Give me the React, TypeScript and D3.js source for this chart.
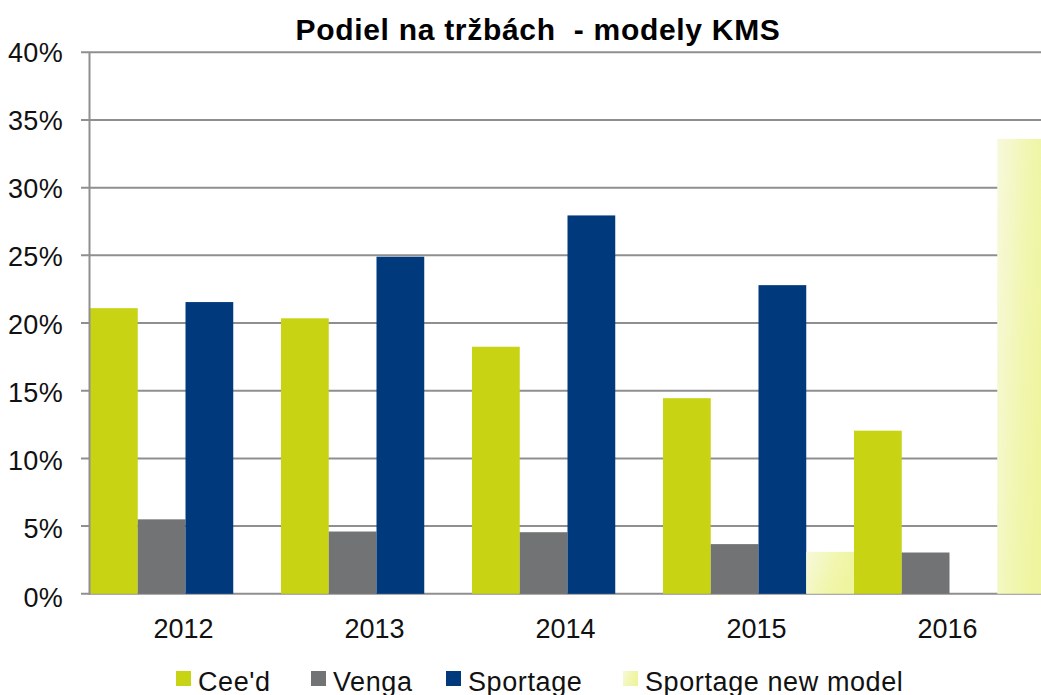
import React from 'react';
import * as d3 from 'd3';

const categories = ['2012', '2013', '2014', '2015', '2016'];
const seriesNames = ["Cee'd", 'Venga', 'Sportage', 'Sportage new model'];
const ceed = [21.1, 20.35, 18.25, 14.45, 12.05];
const venga = [5.5, 4.6, 4.55, 3.67, 3.05];
const sportage = [21.55, 24.9, 27.95, 22.8, 0];
const sportageNew = [0, 0, 0, 3.1, 33.6];
const yTicks = [0, 5, 10, 15, 20, 25, 30, 35, 40];
const title = 'Podiel na tržbách  - modely KMS';

const seriesValues = [ceed, venga, sportage, sportageNew];
const colors = ['#c8d314', '#727374', '#003a7d', 'url(#newGrad)'];

const W = 1041;
const H = 695;
const FONT = '"Liberation Sans", Arial, sans-serif';

export default function App() {
  const left = 90;
  const right = 1045;
  const x0 = d3.scaleBand<string>().domain(categories).range([left, right]).padding(0);
  const x1 = d3.scaleBand<string>().domain(seriesNames).range([0, x0.bandwidth()]).padding(0);
  const y = d3.scaleLinear().domain([0, 40]).range([593.8, 52.3]);
  const yLab = d3.scaleLinear().domain([0, 40]).range([606.5, 61.5]);
  const legendSquareX = [176, 311, 446, 623];

  return (
    <svg
      width={W}
      height={H}
      style={{ position: 'absolute', left: 0, top: 0, background: '#fff' }}
      fontFamily={FONT}
    >
      <defs>
        <linearGradient id="newGrad" x1="0" y1="0" x2="1" y2="0.35">
          <stop offset="0" stopColor="#f7f9dc" />
          <stop offset="0.6" stopColor="#f1f6b0" />
          <stop offset="1" stopColor="#eef59e" />
        </linearGradient>
      </defs>
      <rect x={0} y={0} width={W} height={H} fill="#fff" />
      <text
        x={538}
        y={40}
        textAnchor="middle"
        fontSize={30}
        fontWeight="bold"
        fill="#000"
        letterSpacing={0.7}
        style={{ whiteSpace: 'pre' }}
      >
        {title}
      </text>
      {yTicks.map((t) => (
        <line key={'g' + t} x1={81} x2={right} y1={y(t)} y2={y(t)} stroke="#8f8f8f" strokeWidth={2} />
      ))}
      {yTicks.map((t) => (
        <text key={'yl' + t} x={63} y={yLab(t)} textAnchor="end" fontSize={27} fill="#111" letterSpacing={0.3}>
          {t + '%'}
        </text>
      ))}
      {categories.map((c, ci) => (
        <g key={c} transform={`translate(${x0(c)},0)`}>
          {seriesNames.map((s, si) => {
            const v = seriesValues[si][ci];
            if (v <= 0) return null;
            return (
              <rect
                key={s}
                x={x1(s)!}
                y={y(v)}
                width={x1.bandwidth()}
                height={y(0) - y(v)}
                fill={colors[si]}
              />
            );
          })}
        </g>
      ))}
      <line x1={89.5} x2={89.5} y1={y(40)} y2={y(0) + 1} stroke="#8f8f8f" strokeWidth={2} />
      {categories.map((c) => (
        <text key={'xl' + c} x={x0(c)! + x0.bandwidth() / 2 - 2} y={638} textAnchor="middle" fontSize={27} fill="#111">
          {c}
        </text>
      ))}
      {seriesNames.map((s, i) => (
        <g key={'lg' + s}>
          <rect x={legendSquareX[i]} y={671} width={15} height={15} fill={colors[i]} />
          <text x={legendSquareX[i] + 22} y={690.5} fontSize={27} fill="#111" letterSpacing={0.6}>
            {s}
          </text>
        </g>
      ))}
    </svg>
  );
}
